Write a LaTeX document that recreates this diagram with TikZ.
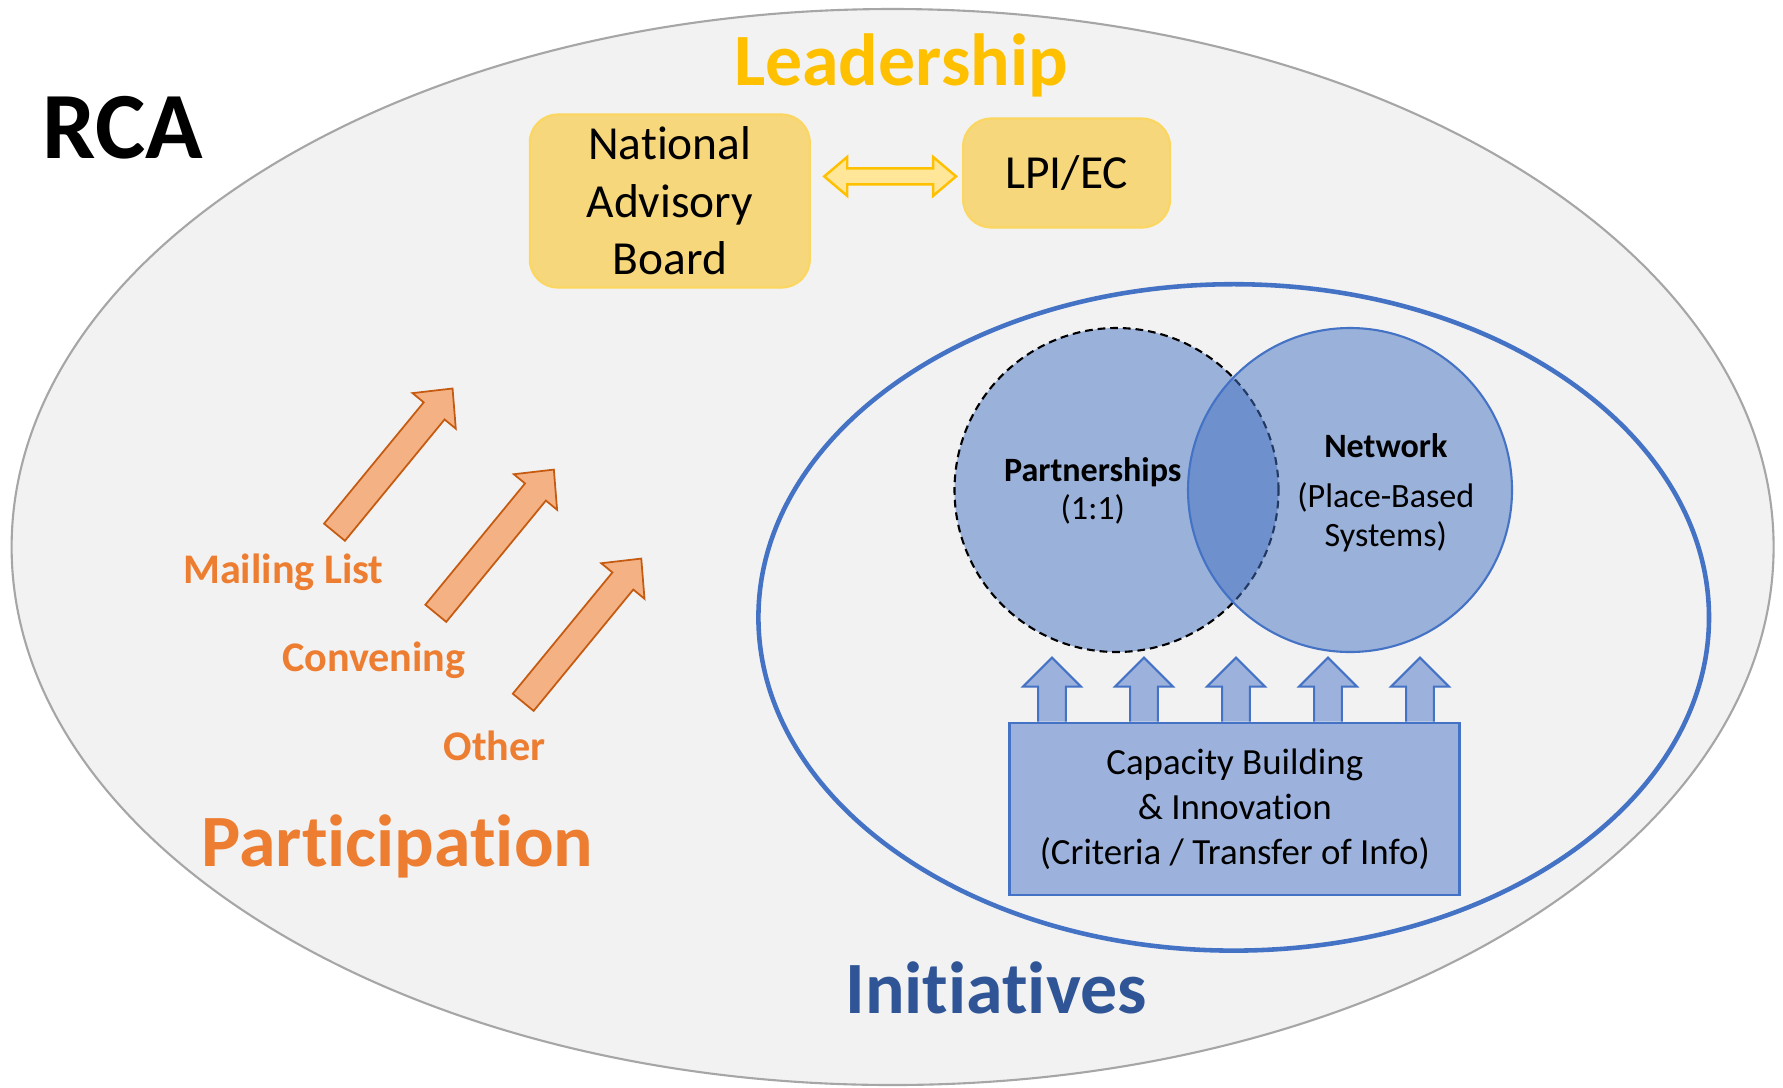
\documentclass[tikz,border=0pt]{standalone}
\usepackage{fontspec}
\setmainfont{Carlito}[Ligatures={NoCommon}]
\usetikzlibrary{calc}
\definecolor{rcagray}{HTML}{F2F2F2}
\definecolor{rcaline}{HTML}{A6A6A6}
\definecolor{leadgold}{HTML}{FFC000}
\definecolor{leadfill}{HTML}{F7D77B}
\definecolor{leadline}{HTML}{FBD660}
\definecolor{leadarrow}{HTML}{FFE699}
\definecolor{initblue}{HTML}{4472C4}
\definecolor{initdark}{HTML}{2F5597}
\definecolor{capfill}{HTML}{9CB2DC}
\definecolor{partorange}{HTML}{ED7D31}
\definecolor{partfill}{HTML}{F4B183}
\definecolor{partline}{HTML}{C55A11}
\begin{document}
\begin{tikzpicture}[x=0.1mm,y=-0.1mm]
    \tikzstyle{heading}=[font=\fontsize{21}{25}\selectfont\bfseries, anchor=base, inner sep=0pt]
    \tikzstyle{chan}=[font=\fontsize{12}{14}\selectfont\bfseries, text=partorange, anchor=base, inner sep=0pt]
    \tikzstyle{leadbox}=[draw=leadline, fill=leadfill, line width=0.6pt, rounded corners=2.8mm, align=center, inner sep=0pt, font=\fontsize{13.5}{16.4}\selectfont]
    \tikzstyle{venn}=[circle, minimum size=32.4mm, inner sep=0pt, fill=initblue, fill opacity=0.5, draw=initblue, line width=0.6pt]
    \tikzstyle{venntext}=[align=center, font=\fontsize{9.7}{11}\selectfont]
    \tikzstyle{bluebox}=[draw=initblue, fill=capfill, line width=0.8pt, align=center, inner sep=0pt, font=\fontsize{10.5}{12.8}\selectfont]
    \tikzstyle{bluearrow}=[draw=initblue, fill=capfill, line width=0.6pt]
    \tikzstyle{orangearrow}=[draw=partline, fill=partfill, line width=0.5pt]
    \fill[white] (0,0) rectangle (1783,1087);
    \useasboundingbox (0,0) rectangle (1783,1087);
    \draw[draw=rcaline, fill=rcagray, line width=0.6pt] (892.6,547) ellipse [x radius=88.1mm, y radius=53.8mm];
    \node[heading, font=\fontsize{27}{32}\selectfont\bfseries] (rca) at (122.8,158) {RCA};
    \node[heading, text=leadgold] (leadership) at (901,85.3) {Leadership};
    \node[leadbox, minimum width=28mm, minimum height=17.3mm] (nab) at (669.8,201) {National\\Advisory\\Board};
    \node[leadbox, minimum width=20.7mm, minimum height=10.9mm] (lpi) at (1066.6,173) {LPI/EC};
    \coordinate (dl) at ($(nab.east)+(13.4,-24.6)$);
    \coordinate (dr) at ($(lpi.west)+(-6,3.4)$);
    \draw[draw=leadgold, fill=leadarrow, line width=0.7pt] (dl) -- ++(23,-19.5) -- ++(0,11.5) -- ($(dr)+(-23,-8)$) -- ++(0,-11.5) -- (dr)
        -- ++(-23,19.5) -- ++(0,-11.5) -- ($(dl)+(23,8)$) -- ++(0,11.5) -- cycle;
    \draw[initblue, line width=1.3pt] (1233.7,617.4) ellipse [x radius=47.53mm, y radius=33.32mm];
    \node[venn, draw=black, dash pattern=on 2.2pt off 1.4pt] (partner) at (1116.5,490) {};
    \node[venn] (network) at (1350,490) {};
    \node[venntext] (partnertext) at (1092.8,491) {\textbf{Partnerships}\\(1:1)};
    \node[venntext] (networktext) at (1385.8,492.5) {\textbf{Network}\\[3.4pt](Place-Based\\Systems)};
    \node[bluebox, minimum width=45mm, minimum height=17.2mm] (cap) at (1234.8,809) {Capacity Building\\\& Innovation\\(Criteria / Transfer of Info)};
    \foreach \i in {0,...,4}
        \draw[bluearrow] ($(cap.north west)+(29.7+92*\i,0)$) -- ++(0,-35) -- ++(-15,0) -- ++(28.9,-29) -- ++(28.9,29) -- ++(-15,0) -- ++(0,35);
    \foreach \tx/\ty in {334.5/532.2, 435.8/613.3, 523.2/702.3}
        \draw[orangearrow, shift={(\tx,\ty)}, rotate=50.6] (0,-13.5) -- (157,-13.5) -- (157,-28) -- (186,0) -- (157,28) -- (157,13.5) -- (0,13.5) -- cycle;
    \node[chan] (mailing) at (283.3,583.5) {Mailing List};
    \node[chan] (convening) at (373.8,671.5) {Convening};
    \node[chan] (other) at (494.5,760) {Other};
    \node[heading, text=partorange] (participation) at (397.4,866) {Participation};
    \node[heading, text=initdark] (initiatives) at (996,1013) {Initiatives};
\end{tikzpicture}
\end{document}
